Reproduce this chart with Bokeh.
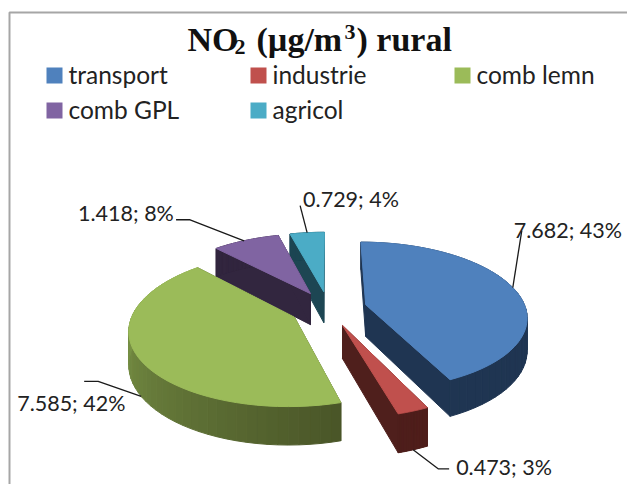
import math
from bokeh.plotting import figure
from bokeh.models import Range1d
from bokeh.embed import file_html
from bokeh.resources import INLINE
from bokeh.core.properties import value

# data
categories = ["transport", "industrie", "comb lemn", "comb GPL", "agricol"]
values = [7.682, 0.473, 7.585, 1.418, 0.729]
percent_labels = ["43%", "3%", "42%", "8%", "4%"]

# style
top_colors = ["#4f81bd", "#c0504d", "#9bbb59", "#8064a2", "#4bacc6"]
wall_colors = ["#1f3552", "#4f1f1c", "#4a5628", "#32263f", "#1d4653"]
rim_start = ["#1f3552", "#4f1f1c", "#4a5628", "#32263f", "#1d4653"]
rim_end = ["#1f3552", "#4f1f1c", "#8cab52", "#32263f", "#1d4653"]
paint_order = [4, 3, 0, 2, 1]
TEXT = "#222222"
CX, CY, RX, RY, K, H, EXPL = 328, 308, 160, 73, 0.15, 32, 0.24

def proj(wx, wz, depth=0.0):
    s = 1 / (1 + K * wz)
    return CX + RX * wx * s, CY - RY * wz * s + depth * H * s

def mix(c0, c1, t):
    a = [int(c0[i:i + 2], 16) for i in (1, 3, 5)]
    b = [int(c1[i:i + 2], 16) for i in (1, 3, 5)]
    return "#%02x%02x%02x" % tuple(round(u + (v - u) * t) for u, v in zip(a, b))

total = sum(values)
angles = [0.0]
for v in values:
    angles.append(angles[-1] + v / total * 2 * math.pi)

def offset(i):
    mid = (angles[i] + angles[i + 1]) / 2
    return EXPL * math.sin(mid), EXPL * math.cos(mid)

def rim_pt(i, frac, depth=0.0):
    ox, oz = offset(i)
    a = angles[i] + (angles[i + 1] - angles[i]) * frac
    return proj(ox + math.sin(a), oz + math.cos(a), depth)

xs, ys, cols = [], [], []
def add(poly, col):
    xs.append([q[0] for q in poly])
    ys.append([q[1] for q in poly])
    cols.append(col)

for i in paint_order:
    ox, oz = offset(i)
    ap0, ap1 = proj(ox, oz), proj(ox, oz, 1)
    for frac in (0.0, 1.0):
        add([ap0, rim_pt(i, frac), rim_pt(i, frac, 1), ap1], wall_colors[i])
    n = 48
    for j in range(n):
        f0, f1 = j / n, (j + 1) / n
        add([rim_pt(i, f0), rim_pt(i, f1), rim_pt(i, f1, 1), rim_pt(i, f0, 1)],
            mix(rim_start[i], rim_end[i], j / (n - 1)))
    top = [ap0] + [rim_pt(i, j / n) for j in range(n + 1)]
    add(top, top_colors[i])

p = figure(width=627, height=484, output_backend="svg", toolbar_location=None,
           x_range=Range1d(0, 627), y_range=Range1d(484, 0), min_border=0)
p.axis.visible = False
p.grid.visible = False
p.outline_line_color = None
p.background_fill_color = "white"

p.line([9, 9, 627], [484, 12, 12], line_color="#a6a6a6", line_width=2)

p.patches(xs, ys, fill_color=cols, line_color=cols, line_width=1)

leader_anchor = [(0.49, 0), (0.5, 1), (0.484, 1), (0.47, 0), (0.5, 0)]
leader_bends = [[(9, -57)], [(25, 19), (36, 19)], [(-43, -15), (-57, -15)],
                [(-54, -21), (-68, -21)], [(-7, -27)]]
label_off = [(1, -58), (43, 17), (-124, 7), (-166, -28), (-4, -34)]
for i in range(5):
    ax, ay = rim_pt(i, *leader_anchor[i])
    lx = [ax] + [ax + b[0] for b in leader_bends[i]]
    ly = [ay] + [ay + b[1] for b in leader_bends[i]]
    p.line(lx, ly, line_color="#1a1a1a", line_width=1.3)
    p.text([ax + label_off[i][0]], [ay + label_off[i][1]],
           text=[f"{values[i]:.3f}; {percent_labels[i]}"],
           text_font=value("Lato"), text_font_size="21.5px",
           text_color=TEXT, text_baseline="middle")

for i, c in enumerate(categories):
    col, row = i % 3, i // 3
    lx = 46 + col * 204
    ly = 75 + row * 35
    p.scatter([lx + 8], [ly], marker="square", size=16, fill_color=top_colors[i], line_color=None)
    p.text([lx + 22], [ly - 1], text=[c], text_font=value("Lato"), text_font_size="24.5px",
           text_color=TEXT, text_baseline="middle")

title_parts = [("NO", 187, 0, 34), ("2", 234, 7, 22), ("(µg/m", 256, 0, 34),
               ("3", 344, -8, 22), (") rural", 356, 0, 34)]
for t, x, dy, size in title_parts:
    p.text([x], [39 + dy], text=[t], text_font=value("Liberation Serif"),
           text_font_style="bold", text_font_size=f"{size}px", text_color="#111111",
           text_baseline="alphabetic")

open("out.html", "w").write(file_html(p, INLINE))
